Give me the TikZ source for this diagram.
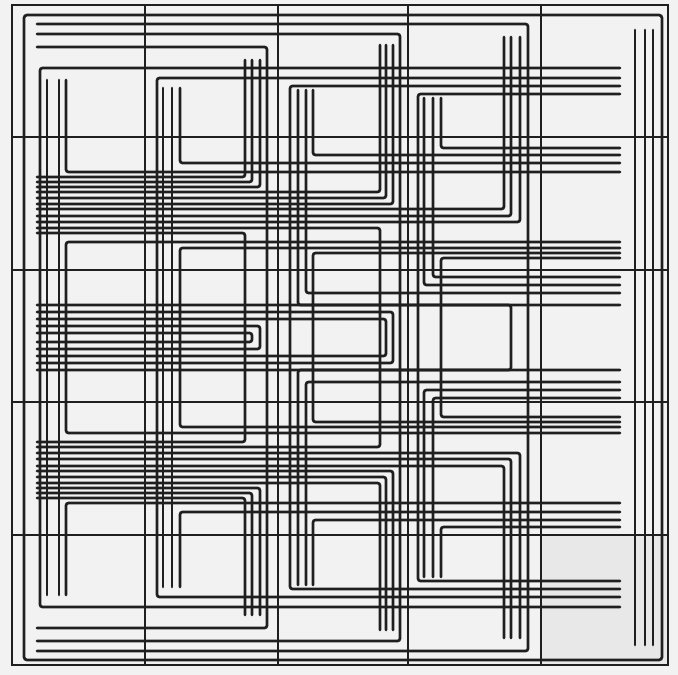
\documentclass[tikz,border=0pt]{standalone}
\begin{document}
\begin{tikzpicture}[x=1pt,y=-1pt,
  ink/.style={color=black!88},
  wire/.style={ink,line width=2.7pt,rounded corners=2.5pt,line cap=round},
  gridline/.style={ink,line width=1.8pt}]
\definecolor{bgc}{gray}{0.95}
\fill[bgc] (0,0) rectangle (678,675);
\useasboundingbox (0,0) rectangle (678,675);
% shaded corner cell
\fill[black!9] (541,535) rectangle (668,665);
% grid
\foreach \x in {145,278,408,541} \draw[gridline] (\x,5) -- (\x,665);
\foreach \y in {137,270,402,535} \draw[gridline] (12,\y) -- (668,\y);
\draw[gridline] (12,5) rectangle (668,665);
% outer loop
\draw[wire,rounded corners=3pt] (24,15) rectangle (662,660);
% top/bottom ] wires from the left
\foreach \y/\x in {24/528, 34/400, 47/267}
  \draw[wire] (37,\y) -| (\x,{675-\y}) -- (37,{675-\y});
% [ wires to the right (outer)
\foreach \x/\y in {40/68, 157/78, 290/86, 418/94}
  \draw[wire] (620,\y) -| (\x,{675-\y}) -- (620,{675-\y});
% top-open verticals turning right
\foreach \x/\t/\y in {441/98/148, 313/90/155, 180/88/163, 66/80/172,
                      433/98/277, 424/98/285, 306/90/293, 298/90/305}{
  \draw[wire] (\x,\t) |- (620,\y);
  \draw[wire] (\x,{675-\t}) |- (620,{675-\y});
}
% [ wires to the right (inner)
\foreach \x/\y in {66/242, 180/248, 313/253, 441/258}
  \draw[wire] (620,\y) -| (\x,{675-\y}) -- (620,{675-\y});
% straight open verticals
\foreach \x/\t in {47/80, 59/80, 163/88, 172/88, 635/30, 645/30, 653/30}
  \draw[wire] (\x,\t) -- (\x,{675-\t});
% top-open verticals turning left
\foreach \x/\t/\y in {245/60/177, 252/60/182, 260/60/187,
                      380/45/192, 386/45/198, 393/45/204,
                      504/37/209, 511/37/216, 520/37/222}{
  \draw[wire] (\x,\t) |- (37,\y);
  \draw[wire] (\x,{675-\t}) |- (37,{675-\y});
}
% ] wires from the left (inner)
\foreach \x/\y in {380/228, 245/233, 511/305, 393/312, 386/319, 260/326, 252/333}
  \draw[wire] (37,\y) -| (\x,{675-\y}) -- (37,{675-\y});
\end{tikzpicture}
\end{document}
